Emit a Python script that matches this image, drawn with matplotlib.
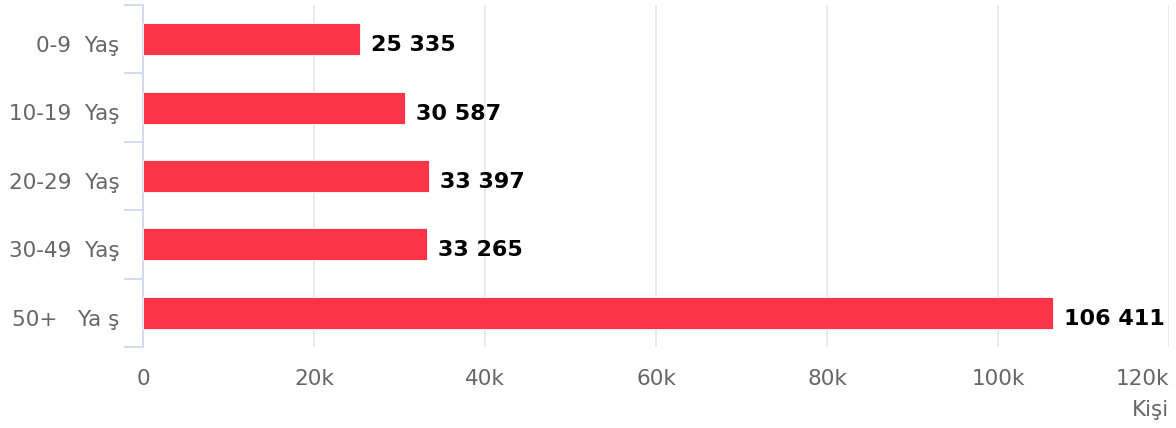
import matplotlib.pyplot as plt
import numpy as np

categories = ['0-9  Yaş', '10-19  Yaş', '20-29  Yaş', '30-49  Yaş', '50+   Ya ş']
values = [25335, 30587, 33397, 33265, 106411]
xticks = [0, 20000, 40000, 60000, 80000, 100000, 120000]
xtick_labels = ['0', '20k', '40k', '60k', '80k', '100k', '120k']

W, H = 1176, 428
fig = plt.figure(figsize=(W / 100, H / 100), dpi=100)
ax = fig.add_axes([143 / W, 1 - 347 / H, (1169 - 143) / W, (347 - 5) / H])

y = np.arange(len(categories))
ax.barh(y, values, height=0.47, color='#fc3448', edgecolor='white', linewidth=0.6, zorder=3)

for yi, v in zip(y, values):
    txt = f'{v:,}'.replace(',', ' ')
    ax.annotate(txt, (v, yi), xytext=(11, -6), textcoords='offset pixels',
                va='center', ha='left', fontsize=16, fontweight='bold', color='black', zorder=4)

ax.set_xlim(0, 120000)
ax.set_ylim(len(categories) - 0.5, -0.5)

ax.set_xticks(xticks)
ax.set_xticklabels(xtick_labels)
ax.get_xticklabels()[-1].set_horizontalalignment('right')
# category labels sit a touch below the band centre in the original
ax.set_yticks(y + 0.07)
ax.set_yticklabels(categories)
ax.set_yticks(np.arange(len(categories) + 1) - 0.5, minor=True)

ax.tick_params(axis='x', length=0, pad=16, labelsize=15.5, labelcolor='#666666')
ax.tick_params(axis='y', which='major', length=0, pad=17, labelsize=15.5, labelcolor='#666666')
ax.tick_params(axis='y', which='minor', length=13.5, width=1.2, color='#ccd6eb')

ax.grid(axis='x', color='#e6e6e6', linewidth=1.2, zorder=0)
for s in ['top', 'right', 'bottom']:
    ax.spines[s].set_visible(False)
ax.spines['left'].set_color('#ccd6eb')
ax.spines['left'].set_linewidth(1.2)

ax.set_xlabel('Kişi', loc='right', fontsize=15.5, color='#666666', labelpad=8)

fig.savefig('out.png', dpi=100)
